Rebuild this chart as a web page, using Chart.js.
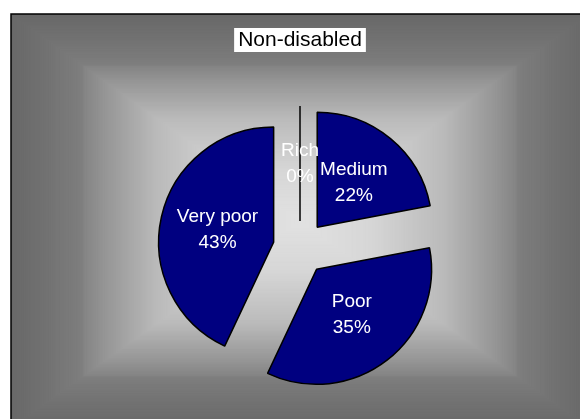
<!DOCTYPE html>
<html>
<head>
<meta charset="utf-8">
<script src="https://cdn.jsdelivr.net/npm/chart.js@4.4.1/dist/chart.umd.min.js"></script>
<style>
  html, body { margin: 0; padding: 0; background: #fff; }
  #wrap { width: 580px; height: 419px; }
</style>
</head>
<body>
<div id="wrap"><canvas id="pieChart" width="580" height="419"></canvas></div>
<script>
const categories = ['Rich', 'Medium', 'Poor', 'Very poor'];
const shares = [0, 22, 35, 43];
const chartTitle = 'Non-disabled';

const FONT = "'Liberation Sans', Arial, sans-serif";
const EXPLODE = 27;

// grey levels of the frame fill, from the middle (0) to the edge (1)
const shadeStops = [[0, 226], [0.25, 214], [0.5, 186], [0.675, 150], [0.75, 132], [0.758, 126], [0.88, 114], [1, 104]];

function shadeAt(t) {
  for (let i = 1; i < shadeStops.length; i++) {
    const [t1, g1] = shadeStops[i];
    const [t0, g0] = shadeStops[i - 1];
    if (t <= t1) {
      const g = Math.round(g0 + (g1 - g0) * (t - t0) / (t1 - t0));
      return `rgb(${g},${g},${g})`;
    }
  }
  const g = shadeStops[shadeStops.length - 1][1];
  return `rgb(${g},${g},${g})`;
}

const framePlugin = {
  id: 'frame',
  beforeDraw(chart) {
    const ctx = chart.ctx;
    const left = 11, top = 14, right = 589, bottom = 428;
    const cx = (left + right) / 2, cy = (top + bottom) / 2;
    const hw = (right - left) / 2, hh = (bottom - top) / 2;
    ctx.save();
    // rectangular gradient: nested boxes, darkest outside
    const steps = 160;
    for (let i = steps; i >= 0; i--) {
      const t = i / steps;
      ctx.fillStyle = shadeAt(t);
      ctx.fillRect(cx - hw * t, cy - hh * t, 2 * hw * t, 2 * hh * t);
    }
    ctx.strokeStyle = '#000';
    ctx.lineWidth = 1.5;
    ctx.strokeRect(left, top, right - left, bottom - top);

    // white box behind the title text
    const tb = chart.titleBlock;
    const opts = chart.options.plugins.title;
    ctx.font = `${opts.font.size}px ${FONT}`;
    const w = ctx.measureText(chartTitle).width + 8;
    const midX = (tb.left + tb.right) / 2;
    const midY = tb.top + opts.padding.top + opts.font.size * 1.2 / 2;
    ctx.fillStyle = '#fff';
    ctx.fillRect(midX - w / 2, midY - 12, w, 24);
    ctx.restore();
  }
};

// pulls every slice out from the centre, labels it, and draws empty slices as a spoke
const explodePlugin = {
  id: 'explode',
  beforeDatasetsDraw(chart) {
    chart.getDatasetMeta(0).data.forEach(arc => {
      const mid = (arc.startAngle + arc.endAngle) / 2;
      arc.$home = [arc.x, arc.y];
      arc.x += Math.cos(mid) * EXPLODE;
      arc.y += Math.sin(mid) * EXPLODE;
    });
  },
  afterDatasetsDraw(chart) {
    const ctx = chart.ctx;
    const meta = chart.getDatasetMeta(0);
    const total = shares.reduce((a, b) => a + b, 0);
    ctx.save();
    meta.data.forEach((arc, i) => {
      const mid = (arc.startAngle + arc.endAngle) / 2;
      if (arc.circumference === 0) {
        ctx.strokeStyle = '#000';
        ctx.lineWidth = 1.5;
        ctx.beginPath();
        ctx.moveTo(arc.x, arc.y);
        ctx.lineTo(arc.x + Math.cos(arc.startAngle) * arc.outerRadius,
                   arc.y + Math.sin(arc.startAngle) * arc.outerRadius);
        ctx.stroke();
      }
      const r = arc.outerRadius * 0.5;
      const lx = arc.x + Math.cos(mid) * r;
      const ly = arc.y + Math.sin(mid) * r;
      ctx.fillStyle = '#fff';
      ctx.font = `19px ${FONT}`;
      ctx.textAlign = 'center';
      ctx.textBaseline = 'middle';
      ctx.fillText(categories[i], lx, ly - 13);
      ctx.fillText(Math.round(shares[i] / total * 100) + '%', lx, ly + 13);
    });
    ctx.restore();
    meta.data.forEach(arc => {
      [arc.x, arc.y] = arc.$home;
    });
  }
};

new Chart(document.getElementById('pieChart'), {
  type: 'pie',
  data: {
    labels: categories,
    datasets: [{
      data: shares,
      backgroundColor: '#000080',
      borderColor: '#000',
      borderWidth: 1.5,
    }],
  },
  options: {
    responsive: false,
    animation: false,
    layout: { padding: { left: 100, right: 80, top: 14, bottom: 55.25 } },
    plugins: {
      legend: { display: false },
      tooltip: { enabled: false },
      title: {
        display: true,
        text: chartTitle,
        color: '#000',
        font: { family: FONT, size: 21, weight: 'normal' },
        padding: { top: 13.4, bottom: 79.65 },
      },
    },
  },
  plugins: [framePlugin, explodePlugin],
});
</script>
</body>
</html>
